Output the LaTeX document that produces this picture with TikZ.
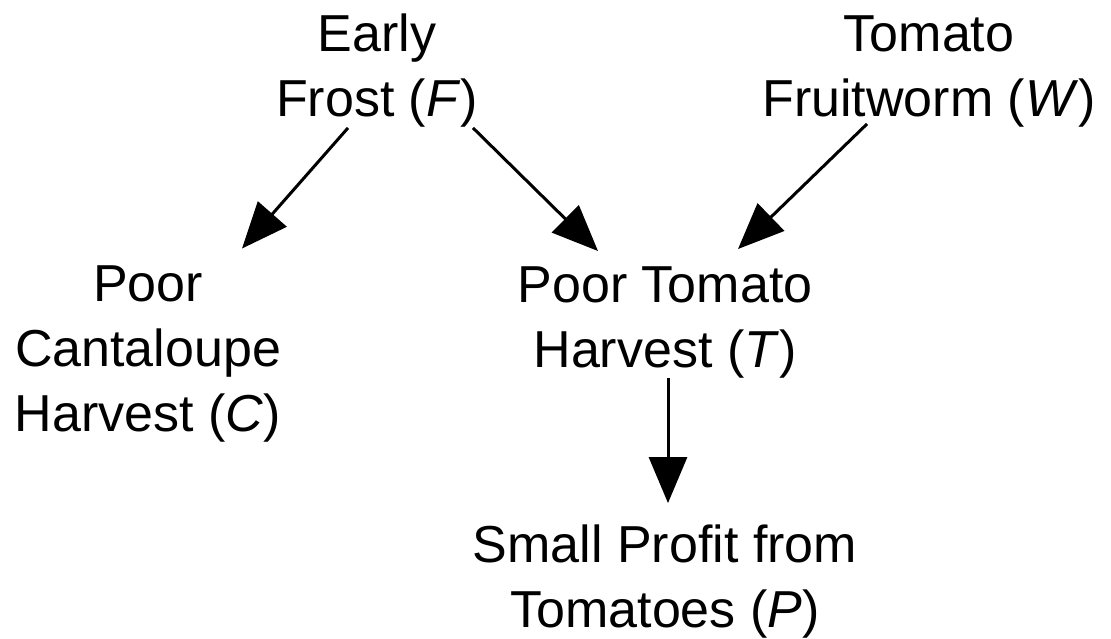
\documentclass[tikz,border=0pt]{standalone}
\usepackage{fontspec}
\setmainfont{Liberation Sans}
\usetikzlibrary{arrows.meta}
\begin{document}
\begin{tikzpicture}[x=1pt,y=-1pt,
  var/.style={align=center,inner sep=0pt,font=\fontsize{52}{65}\selectfont},
  edge/.style={line width=3pt,-{Triangle[length=46pt,width=38pt]}}]
\useasboundingbox (0,0) rectangle (1111,639);
\node[var] (F) at (377,71) {Early\\Frost (\textit{F})};
\node[var] (W) at (929,71) {Tomato\\Fruitworm (\textit{W})};
\node[var] (C) at (148,354) {Poor\\Cantaloupe\\Harvest (\textit{C})};
\node[var] (T) at (665,322) {Poor Tomato\\Harvest (\textit{T})};
\node[var] (P) at (665,582) {Small Profit from\\Tomatoes (\textit{P})};
\draw[edge] ([xshift=-29pt]F.south) -- ([xshift=94pt,yshift=17pt]C.north);
\draw[edge] ([xshift=96pt]F.south) -- ([xshift=-67pt,yshift=15pt]T.north);
\draw[edge] ([xshift=-62pt,yshift=3pt]W.south) -- ([xshift=73pt,yshift=17pt]T.north);
\draw[edge] ([xshift=3pt]T.south) -- ([xshift=3pt,yshift=22pt]P.north);
\end{tikzpicture}
\end{document}
